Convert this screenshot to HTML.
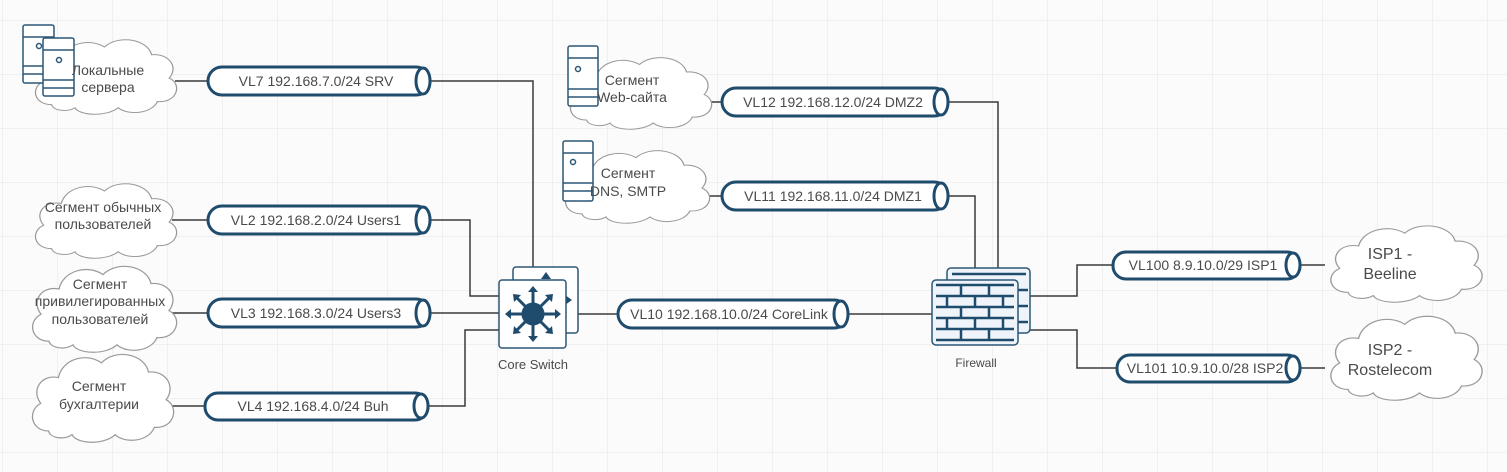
<!DOCTYPE html>
<html><head><meta charset="utf-8"><style>
html,body{margin:0;padding:0;background:#fff}
svg{display:block}
text{font-family:"Liberation Sans",sans-serif;fill:#4a4a4a}
</style></head><body>
<svg width="1507" height="472" viewBox="0 0 1507 472" xmlns="http://www.w3.org/2000/svg">
<defs>
<pattern id="g" x="2" y="20" width="55" height="54" patternUnits="userSpaceOnUse">
<path d="M0 0H55M0 0V54" stroke="#e6e6e6" stroke-width="1" fill="none"/>
</pattern>
<path id="cloud" d="M22,88 C4,88 0,66 14,58 C4,44 14,26 32,30 C36,10 60,2 76,14 C90,-2 120,4 124,24 C142,22 152,40 142,54 C156,62 150,86 130,84 C124,100 100,102 90,92 C78,104 50,102 46,92 C38,98 24,96 22,88 Z" fill="#fff" stroke="#9a9a9a" stroke-width="1.3"/>
</defs>
<rect width="1507" height="472" fill="#fbfbfb"/>
<rect width="1507" height="472" fill="url(#g)"/>

<g stroke="#3a3a3a" stroke-width="1.5" fill="none">
<path d="M175,81H208"/><path d="M430,81H533V282"/>
<path d="M172,220H208"/><path d="M430,220H470V296H500"/>
<path d="M172,313H208"/><path d="M430,313H500"/>
<path d="M170,406H205"/><path d="M428,406H465V330H500"/>
<path d="M566,314H618"/><path d="M848,314H932"/>
<path d="M707,102H722"/><path d="M948,102H998V268"/>
<path d="M705,196H722"/><path d="M948,196H975V280"/>
<path d="M1030,296H1077V265H1113"/><path d="M1030,330H1077V368H1117"/>
<path d="M1300,265H1325"/><path d="M1300,368H1325"/>
</g>

<use href="#cloud" transform="translate(30,36) scale(0.98,0.78)"/>
<use href="#cloud" transform="translate(30,180) scale(0.98,0.78)"/>
<use href="#cloud" transform="translate(27,262) scale(1.0,0.9)"/>
<use href="#cloud" transform="translate(27,350) scale(0.98,0.92)"/>
<use href="#cloud" transform="translate(565,54) scale(0.98,0.75)"/>
<use href="#cloud" transform="translate(560,147) scale(1.0,0.76)"/>
<use href="#cloud" transform="translate(1325,222) scale(1.05,0.8)"/>
<use href="#cloud" transform="translate(1325,312) scale(1.05,0.88)"/>

<g fill="#fff" stroke="#2c5777" stroke-width="1.5">
<rect x="23" y="25" width="31" height="58" rx="2"/>
<line x1="23" y1="37" x2="54" y2="37"/><line x1="23" y1="66" x2="54" y2="66"/><line x1="23" y1="74" x2="54" y2="74"/>
<rect x="43" y="38" width="31" height="58" rx="2"/>
<line x1="43" y1="50" x2="74" y2="50"/><line x1="43" y1="80" x2="74" y2="80"/><line x1="43" y1="88" x2="74" y2="88"/>
<circle cx="39" cy="46" r="2.5"/><circle cx="59" cy="60" r="2.5"/>
<rect x="568" y="46" width="30" height="60" rx="2"/>
<line x1="568" y1="58" x2="598" y2="58"/><line x1="568" y1="89" x2="598" y2="89"/><line x1="568" y1="97" x2="598" y2="97"/>
<circle cx="578" cy="69" r="2.5"/>
<rect x="563" y="141" width="30" height="60" rx="2"/>
<line x1="563" y1="153" x2="593" y2="153"/><line x1="563" y1="183" x2="593" y2="183"/><line x1="563" y1="191" x2="593" y2="191"/>
<circle cx="573" cy="162" r="2.5"/>
</g>

<g font-size="14" text-anchor="middle">
<text x="108" y="75">Локальные</text><text x="108" y="92">сервера</text>
<text x="103" y="212">Сегмент обычных</text><text x="103" y="229">пользователей</text>
<text x="100" y="289">Сегмент</text><text x="100" y="306">привилегированных</text><text x="100" y="324">пользователей</text>
<text x="99" y="391">Сегмент</text><text x="99" y="409">бухгалтерии</text>
<text x="632" y="85">Сегмент</text><text x="632" y="102">Web-сайта</text>
<text x="628" y="178">Сегмент</text><text x="628" y="196">DNS, SMTP</text>
<text x="1390" y="259" font-size="16">ISP1 -</text><text x="1390" y="279" font-size="16">Beeline</text>
<text x="1390" y="355" font-size="16">ISP2 -</text><text x="1390" y="375" font-size="16">Rostelecom</text>
</g>

<g fill="#fff" stroke="#1f4b6d" stroke-width="3">
<rect x="208" y="67" width="222" height="28" rx="14"/><ellipse cx="423" cy="81" rx="7" ry="13"/>
<rect x="208" y="206" width="222" height="28" rx="14"/><ellipse cx="423" cy="220" rx="7" ry="13"/>
<rect x="208" y="299" width="222" height="28" rx="14"/><ellipse cx="423" cy="313" rx="7" ry="13"/>
<rect x="205" y="393" width="223" height="27" rx="13"/><ellipse cx="421" cy="406" rx="7" ry="12"/>
<rect x="722" y="88" width="226" height="28" rx="14"/><ellipse cx="941" cy="102" rx="7" ry="13"/>
<rect x="722" y="182" width="226" height="28" rx="14"/><ellipse cx="941" cy="196" rx="7" ry="13"/>
<rect x="618" y="300" width="230" height="28" rx="14"/><ellipse cx="841" cy="314" rx="7" ry="13"/>
<rect x="1113" y="252" width="187" height="27" rx="13"/><ellipse cx="1293" cy="265" rx="7" ry="12"/>
<rect x="1117" y="355" width="183" height="27" rx="13"/><ellipse cx="1293" cy="368" rx="7" ry="12"/>
</g>
<g font-size="14" text-anchor="middle">
<text x="316" y="86">VL7 192.168.7.0/24 SRV</text>
<text x="316" y="225">VL2 192.168.2.0/24 Users1</text>
<text x="316" y="318">VL3 192.168.3.0/24 Users3</text>
<text x="313" y="411">VL4 192.168.4.0/24 Buh</text>
<text x="833" y="107">VL12 192.168.12.0/24 DMZ2</text>
<text x="833" y="201">VL11 192.168.11.0/24 DMZ1</text>
<text x="729" y="319">VL10 192.168.10.0/24 CoreLink</text>
<text x="1203" y="270">VL100 8.9.10.0/29 ISP1</text>
<text x="1205" y="373">VL101 10.9.10.0/28 ISP2</text>
</g>

<rect x="513" y="267" width="65" height="66" rx="3" fill="#fff" stroke="#2c5777" stroke-width="1.5"/>
<path d="M546,272 l-5,7 h10z M572,300 l-7,-5 v10z" fill="#1f4b6d"/>
<rect x="499" y="280" width="67" height="68" rx="3" fill="#fff" stroke="#2c5777" stroke-width="1.5"/>
<g stroke="#1f4b6d" stroke-width="3" fill="#1f4b6d">
<circle cx="533" cy="314" r="10"/>
<line x1="533" y1="290" x2="533" y2="338"/><line x1="509" y1="314" x2="557" y2="314"/>
<line x1="516" y1="297" x2="550" y2="331"/><line x1="550" y1="297" x2="516" y2="331"/>
</g>
<g fill="#1f4b6d">
<path d="M533,286 l-5,6 h10z M533,342 l-5,-6 h10z M505,314 l6,-5 v10z M561,314 l-6,-5 v10z"/>
<path d="M513,294 l8,1 l-7,7z M553,294 l-8,1 l7,7z M513,334 l8,-1 l-7,-7z M553,334 l-8,-1 l7,-7z"/>
</g>
<text x="533" y="369" font-size="13" text-anchor="middle">Core Switch</text>

<rect x="947" y="268" width="83" height="65" rx="4" fill="#eef4f9" stroke="#2c5777" stroke-width="1.5"/>
<g stroke="#1f4b6d" stroke-width="2.5">
<line x1="952" y1="274" x2="1026" y2="274"/>
<line x1="1018" y1="290" x2="1028" y2="290"/><line x1="1018" y1="306" x2="1028" y2="306"/><line x1="1018" y1="322" x2="1028" y2="322"/>
</g>
<rect x="932" y="280" width="86" height="65" rx="4" fill="#eef4f9" stroke="#2c5777" stroke-width="1.5"/>
<g stroke="#1f4b6d" stroke-width="2.5">
<line x1="936" y1="285" x2="1014" y2="285"/><line x1="936" y1="296" x2="1014" y2="296"/>
<line x1="936" y1="307" x2="1014" y2="307"/><line x1="936" y1="318" x2="1014" y2="318"/>
<line x1="936" y1="329" x2="1014" y2="329"/><line x1="936" y1="340" x2="1014" y2="340"/>
<line x1="961" y1="285" x2="961" y2="296"/><line x1="989" y1="285" x2="989" y2="296"/>
<line x1="947" y1="296" x2="947" y2="307"/><line x1="975" y1="296" x2="975" y2="307"/><line x1="1003" y1="296" x2="1003" y2="307"/>
<line x1="961" y1="307" x2="961" y2="318"/><line x1="989" y1="307" x2="989" y2="318"/>
<line x1="947" y1="318" x2="947" y2="329"/><line x1="975" y1="318" x2="975" y2="329"/><line x1="1003" y1="318" x2="1003" y2="329"/>
<line x1="961" y1="329" x2="961" y2="340"/><line x1="989" y1="329" x2="989" y2="340"/>
</g>
<text x="976" y="367" font-size="12" text-anchor="middle">Firewall</text>
</svg>
</body></html>
